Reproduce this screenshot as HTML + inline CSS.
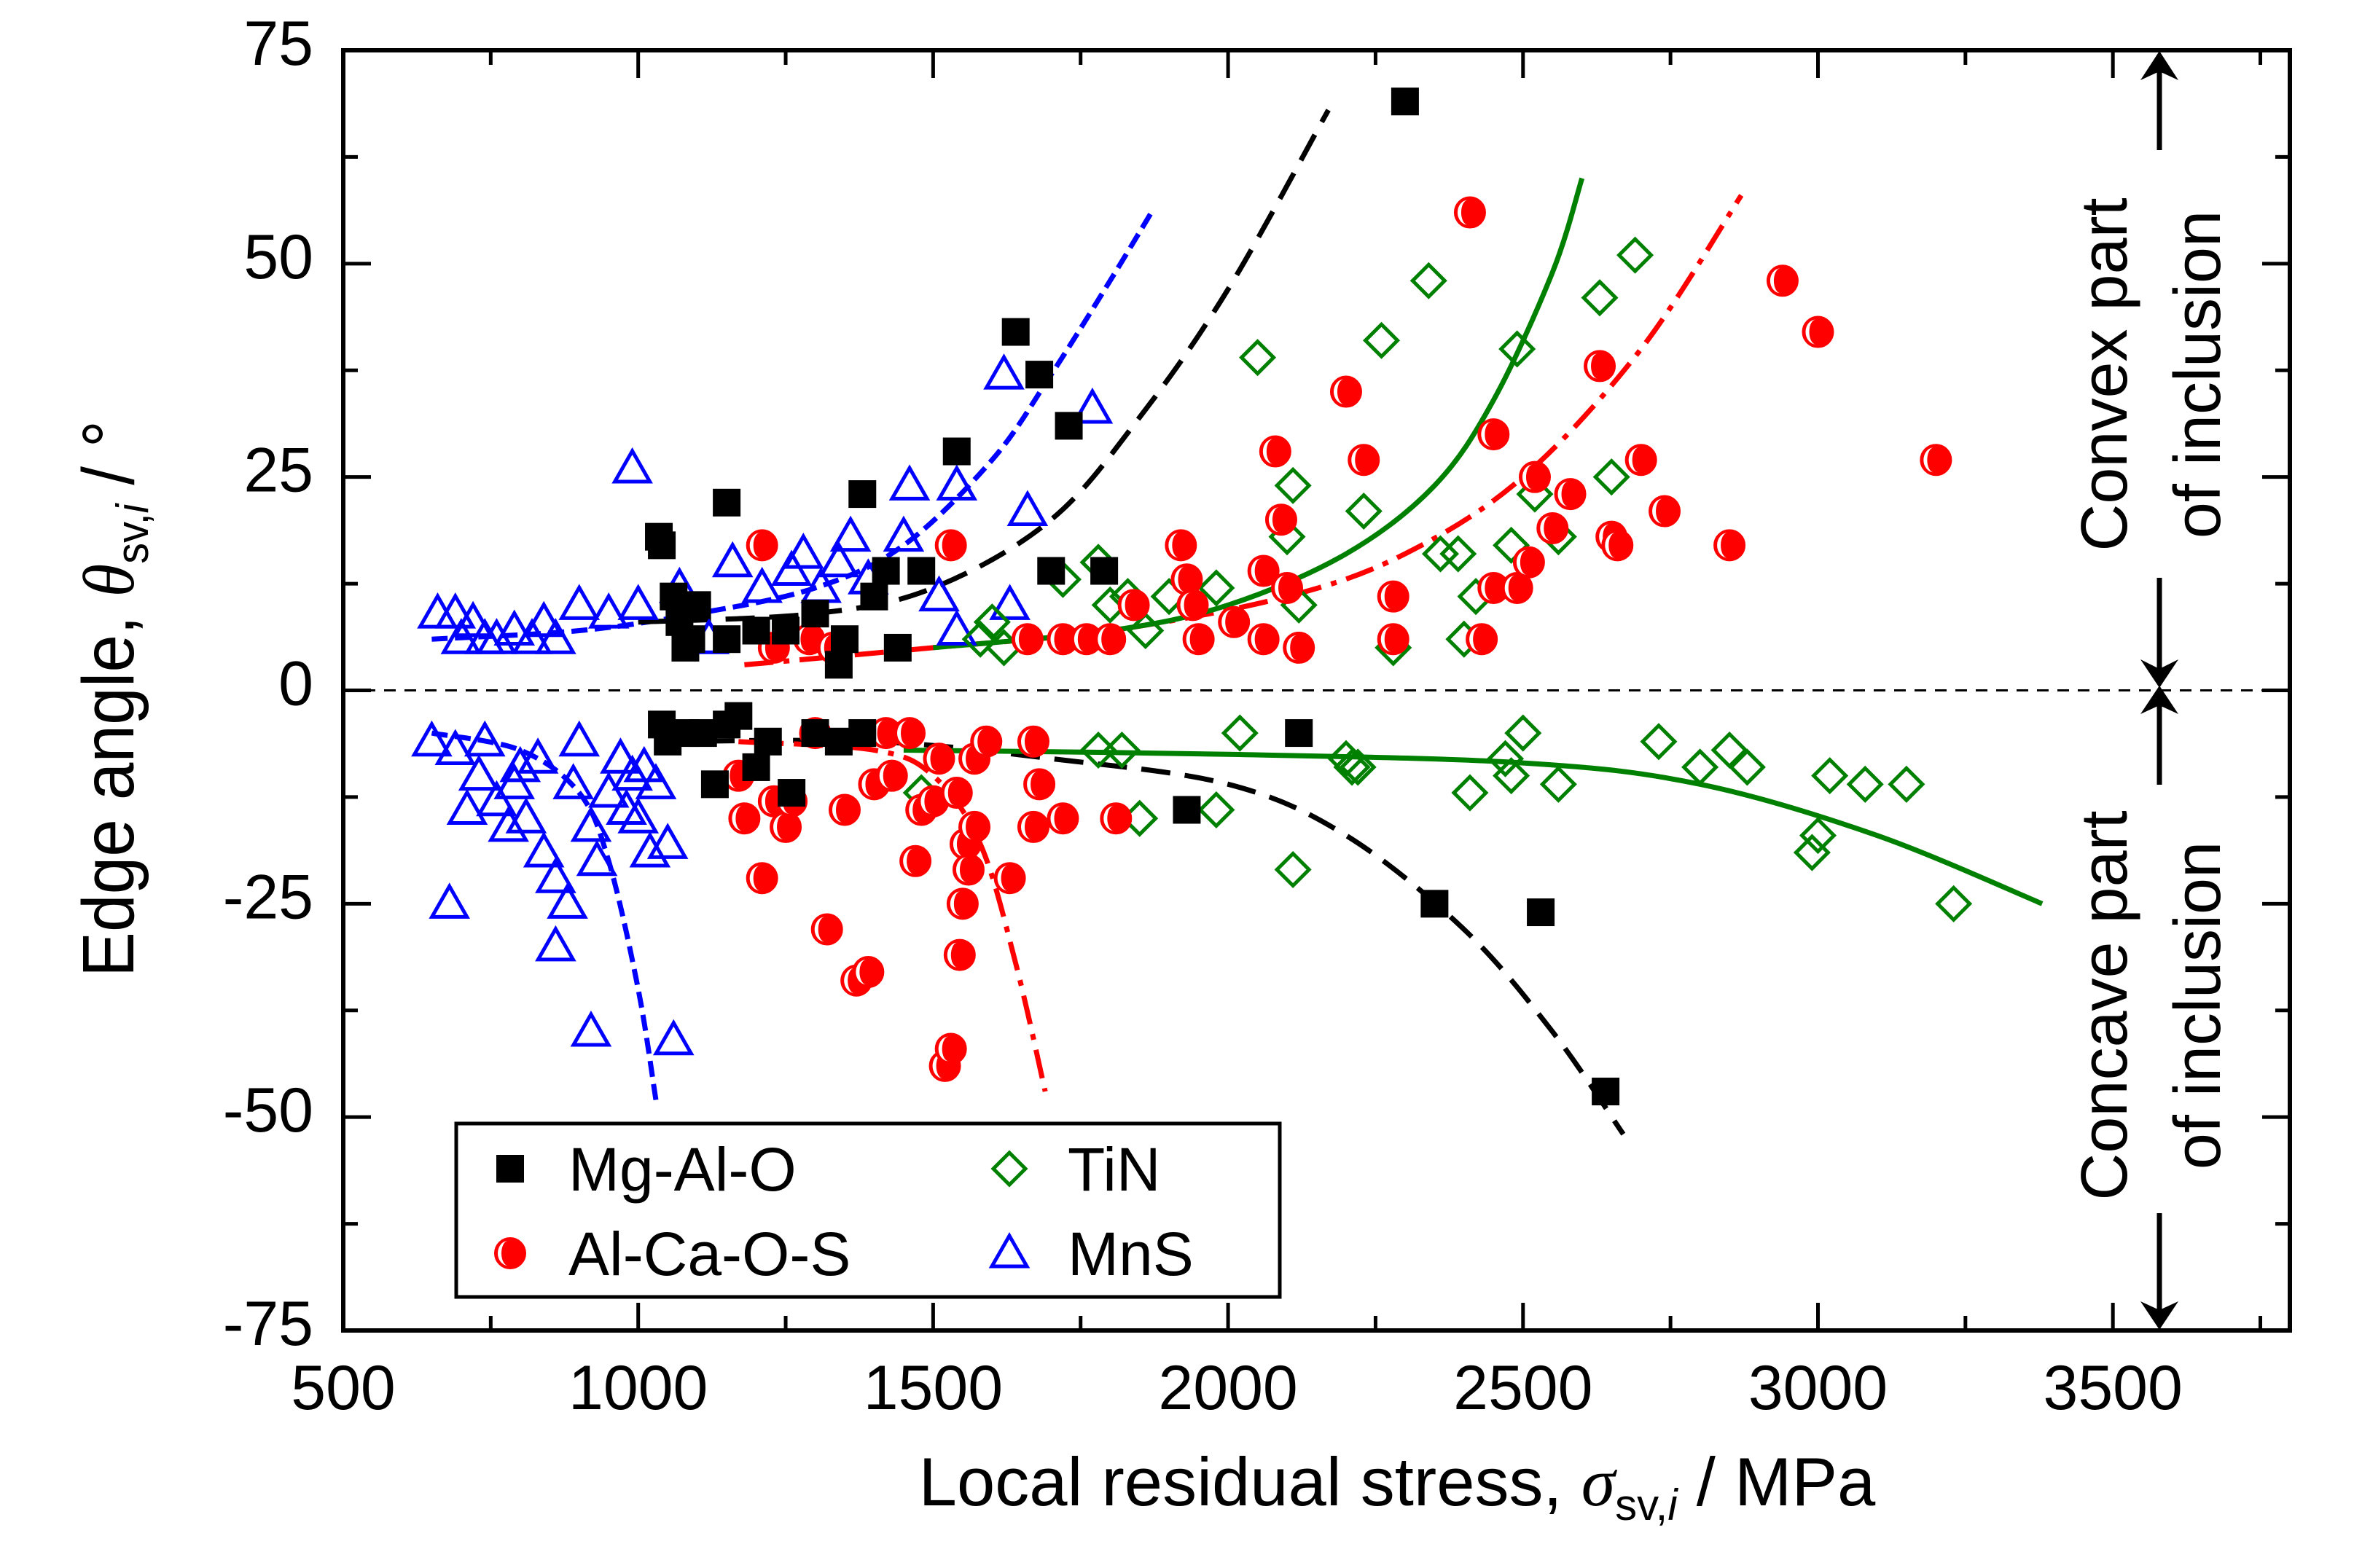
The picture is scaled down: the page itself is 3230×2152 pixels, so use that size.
<!DOCTYPE html>
<html><head><meta charset="utf-8"><style>
html,body{margin:0;padding:0;background:#fff;}
svg{display:block;font-family:"Liberation Sans",Arial,sans-serif;}
</style></head><body>
<svg id="chart" width="3230" height="2152" viewBox="0 0 3230 2152" xmlns="http://www.w3.org/2000/svg">
<rect x="0" y="0" width="3230" height="2152" fill="#fff"/>
<g id="fits"></g>
<g id="marks"></g>
<g id="axes"></g>
<text transform="translate(183,959) rotate(-90)" text-anchor="middle" font-size="100" textLength="764" lengthAdjust="spacingAndGlyphs">Edge angle, <tspan font-family="Liberation Serif" font-style="italic">θ</tspan><tspan font-size="62" dy="20">sv,<tspan font-style="italic">i</tspan></tspan><tspan dy="-20"> / °</tspan></text>
<text x="1917" y="2066" text-anchor="middle" font-size="94">Local residual stress, <tspan font-family="Liberation Serif" font-style="italic">σ</tspan><tspan font-size="60" dy="20">sv,<tspan font-style="italic">i</tspan></tspan><tspan dy="-20"> / MPa</tspan></text>
<g>
<text transform="translate(2918,514) rotate(-90)" text-anchor="middle" font-size="90">Convex part</text>
<text transform="translate(3046,514) rotate(-90)" text-anchor="middle" font-size="90">of inclusion</text>
</g>
<g>
<text transform="translate(2918,1380) rotate(-90)" text-anchor="middle" font-size="90">Concave part</text>
<text transform="translate(3046,1380) rotate(-90)" text-anchor="middle" font-size="90">of inclusion</text>
</g>
<g stroke="#000" stroke-width="7" fill="#000">
<line x1="2963" y1="80" x2="2963" y2="206"/><polygon points="2937,110 2963,70 2989,110 2963,98" stroke="none"/>
<line x1="2963" y1="793" x2="2963" y2="925"/><polygon points="2937,905 2963,944 2989,905 2963,918" stroke="none"/>
<line x1="2963" y1="960" x2="2963" y2="1077"/><polygon points="2937,980 2963,941 2989,980 2963,968" stroke="none"/>
<line x1="2963" y1="1665" x2="2963" y2="1810"/><polygon points="2937,1786 2963,1825 2989,1786 2963,1798" stroke="none"/>
</g>
<g id="legend">
<rect x="626" y="1542" width="1130" height="238" fill="#fff" stroke="#000" stroke-width="5"/>
</g>
</svg>
<script>
const mgX=[1035,1040,1060,1070,1080,1090,1100,1150,1150,1200,1250,1300,1340,1350,1380,1400,1420,1440,1480,1540,1640,1680,1700,1730,1790,2300,1040,1050,1080,1110,1130,1150,1170,1200,1220,1260,1300,1340,1380,1930,2120,2350,2530,2640];
const mgY=[18,17,11,8,5,6,10,22,6,7,7,9,3,6,23,11,14,5,14,28,42,37,14,31,14,69,-4,-6,-5,-5,-11,-4,-3,-9,-6,-12,-5,-6,-5,-14,-5,-25,-26,-47];
const acX=[1210,1230,1290,1330,1530,1660,1720,1760,1800,1840,1920,1930,1940,1950,2010,2060,2060,2080,2090,2100,2120,2200,2230,2280,2280,2410,2430,2450,2450,2490,2510,2520,2550,2580,2630,2650,2660,2700,2740,2850,2940,3000,3200,1170,1180,1210,1230,1250,1260,1300,1320,1350,1370,1390,1400,1420,1430,1460,1470,1480,1500,1510,1520,1530,1540,1545,1550,1555,1560,1570,1570,1590,1630,1670,1670,1680,1720,1810];
const acY=[17,5,6,5,17,6,6,6,6,10,17,13,10,6,8,6,14,28,20,12,5,35,27,11,6,56,6,30,12,12,15,25,19,23,38,18,17,27,21,17,48,42,27,-10,-15,-22,-13,-16,-13,-5,-28,-14,-34,-33,-11,-5,-10,-5,-20,-14,-13,-8,-44,-42,-12,-31,-25,-18,-21,-16,-8,-6,-22,-6,-16,-11,-15,-15];
const tinX=[1580,1600,1620,1720,1780,1800,1830,1860,1900,1980,2050,2100,2110,2120,2230,2260,2280,2340,2360,2390,2400,2420,2480,2490,2520,2560,2630,2650,2690,1480,1780,1820,1850,1980,2020,2110,2200,2210,2220,2410,2470,2480,2500,2560,2730,2800,2850,2880,2990,3000,3020,3080,3150,3230];
const tinY=[6,8,5,13,15,10,11,7,11,12,39,18,24,10,21,41,5,48,16,16,6,11,17,40,23,18,46,25,51,-12,-7,-7,-15,-14,-5,-21,-8,-9,-9,-12,-8,-10,-5,-11,-6,-9,-7,-9,-19,-17,-10,-11,-11,-25];
const mnsX=[660,690,700,720,740,760,790,820,840,860,900,950,990,1000,1070,1120,1160,1210,1260,1280,1310,1340,1360,1390,1450,1460,1510,1540,1540,1620,1630,1660,1770,650,680,690,710,730,740,760,780,790,800,810,830,840,860,860,880,890,900,920,930,950,970,980,990,1010,1020,1030,1050,920,1060,1000];
const mnsY=[9,9,6,8,6,6,7,6,8,6,10,9,26,10,12,6,15,12,14,16,12,15,18,13,18,24,11,24,7,37,10,21,33,-6,-25,-7,-14,-10,-6,-13,-16,-11,-9,-15,-8,-19,-22,-30,-25,-11,-6,-16,-20,-12,-8,-14,-10,-9,-19,-11,-18,-40,-41,-15];
const fitBlueUpX=[650,900,1100,1300,1450,1600,1700,1800,1870], fitBlueUpY=[6,7,9,12,17,27,37,48,56];
const fitBlueLoX=[650,800,900,950,1000,1030], fitBlueLoY=[-5,-7,-12,-20,-35,-48];
const fitBlackUpX=[1000,1300,1500,1700,1850,2000,2170], fitBlackUpY=[8,9,12,20,32,47,68];
const fitBlackLoX=[1040,1400,1700,2000,2200,2400,2550,2670], fitBlackLoY=[-6,-6,-8,-11,-17,-28,-40,-52];
const fitRedUpX=[1180,1500,1800,2100,2300,2500,2700,2870], fitRedUpY=[3,5,7,11,16,25,40,58];
const fitRedLoX=[1170,1400,1500,1580,1640,1690], fitRedLoY=[-6,-7,-10,-18,-32,-47];
const fitGreenUpX=[1500,1800,2000,2200,2350,2450,2550,2600], fitGreenUpY=[5,7,10,16,24,34,49,60];
const fitGreenLoX=[1450,2000,2500,2800,3100,3380], fitGreenLoY=[-7,-7.5,-8.5,-11,-17,-25];
const xTicks=[500,1000,1500,2000,2500,3000,3500];
const yTicks=[-75,-50,-25,0,25,50,75];

const NS='http://www.w3.org/2000/svg';
const L=471,R=3142,T=69,B=1826,X0=500,X1=3800,Y0=-75,Y1=75;
function sx(v){return L+(v-X0)/(X1-X0)*(R-L);}
function sy(v){return B-(v-Y0)/(Y1-Y0)*(B-T);}
function mk(tag,attrs,parent){const e=document.createElementNS(NS,tag);for(const k in attrs)e.setAttribute(k,attrs[k]);parent.appendChild(e);return e;}
const marks=document.getElementById('marks'),fits=document.getElementById('fits'),axes=document.getElementById('axes'),legend=document.getElementById('legend');

function square(x,y,p){return mk('rect',{x:x-19,y:y-19,width:38,height:38,fill:'#000'},p);}
function circ(x,y,p){const g=mk('g',{},p);mk('circle',{cx:x,cy:y,r:21,fill:'#f00',stroke:'#f00','stroke-width':2},g);mk('path',{d:`M${x-3},${y-17} A9,17 0 0 0 ${x-3},${y+17} A14,17 0 0 1 ${x-3},${y-17}Z`,fill:'#fff'},g);return g;}
function diamond(x,y,p){return mk('polygon',{points:`${x},${y-22} ${x+22},${y} ${x},${y+22} ${x-22},${y}`,fill:'none',stroke:'#008000','stroke-width':5},p);}
function tri(x,y,p){return mk('polygon',{points:`${x},${y-24} ${x+24},${y+18} ${x-24},${y+18}`,fill:'none',stroke:'#0000ff','stroke-width':5},p);}

function fit(xs,ys,color,dash,name){
 const P=xs.map((v,i)=>[sx(v),sy(ys[i])]);
 let d='M'+P[0][0].toFixed(1)+','+P[0][1].toFixed(1);
 for(let i=0;i<P.length-1;i++){
  const p0=P[Math.max(0,i-1)],p1=P[i],p2=P[i+1],p3=P[Math.min(P.length-1,i+2)];
  const c1=[p1[0]+(p2[0]-p0[0])/6,p1[1]+(p2[1]-p0[1])/6],c2=[p2[0]-(p3[0]-p1[0])/6,p2[1]-(p3[1]-p1[1])/6];
  d+=`C${c1[0].toFixed(1)},${c1[1].toFixed(1)} ${c2[0].toFixed(1)},${c2[1].toFixed(1)} ${p2[0].toFixed(1)},${p2[1].toFixed(1)}`;
 }
 const e=mk('path',{d:d,fill:'none',stroke:color,'stroke-width':7,'stroke-dasharray':dash},fits);
 
 
}
const zl=mk('line',{x1:L,y1:sy(0),x2:R,y2:sy(0),stroke:'#000','stroke-width':3,'stroke-dasharray':'16,12'},fits);


fit(fitBlueUpX,fitBlueUpY,'#0000ff','22,10','fit-mns-convex');
fit(fitBlueLoX,fitBlueLoY,'#0000ff','22,10','fit-mns-concave');
fit(fitBlackUpX,fitBlackUpY,'#000','40,20','fit-mgalo-convex');
fit(fitBlackLoX,fitBlackLoY,'#000','40,20','fit-mgalo-concave');
fit(fitRedUpX,fitRedUpY,'#f00','40,14,8,14','fit-alcaos-convex');
fit(fitRedLoX,fitRedLoY,'#f00','40,14,8,14','fit-alcaos-concave');
fit(fitGreenUpX,fitGreenUpY,'#008000','none','fit-tin-convex');
fit(fitGreenLoX,fitGreenLoY,'#008000','none','fit-tin-concave');

mnsX.forEach((v,i)=>{const e=tri(sx(v),sy(mnsY[i]),marks);
 
 });
tinX.forEach((v,i)=>{const e=diamond(sx(v),sy(tinY[i]),marks);
 
 });
acX.forEach((v,i)=>{const e=circ(sx(v),sy(acY[i]),marks);
 
 });
mgX.forEach((v,i)=>{const e=square(sx(v),sy(mgY[i]),marks);
 
 });

mk('rect',{x:L,y:T,width:R-L,height:B-T,fill:'none',stroke:'#000','stroke-width':6},axes);
for(let v=X0;v<=X1;v+=250){const maj=(v%500===0);const x=sx(v);
 mk('line',{x1:x,y1:B,x2:x,y2:B-(maj?38:20),stroke:'#000','stroke-width':5},axes);
 mk('line',{x1:x,y1:T,x2:x,y2:T+(maj?38:20),stroke:'#000','stroke-width':5},axes);}
xTicks.forEach(v=>{const t=mk('text',{x:sx(v),y:1934,'text-anchor':'middle','font-size':86},axes);t.textContent=v;
 
 });
for(let v=Y0;v<=Y1;v+=12.5){const maj=(v%25===0);const y=sy(v);
 mk('line',{x1:L,y1:y,x2:L+(maj?38:20),y2:y,stroke:'#000','stroke-width':5},axes);
 mk('line',{x1:R,y1:y,x2:R-(maj?38:20),y2:y,stroke:'#000','stroke-width':5},axes);}
yTicks.forEach(v=>{const t=mk('text',{x:430,y:sy(v)+20,'text-anchor':'end','font-size':86},axes);t.textContent=v;
 
 });

const items=[['Mg-Al-O',square,700,1604],['Al-Ca-O-S',circ,700,1720],['TiN',diamond,1385,1604],['MnS',tri,1385,1720]];
items.forEach(it=>{const g=mk('g',{},legend);
 
 
 it[1](it[2],it[3],g);const t=mk('text',{x:it[2]+80,y:it[3]+30,'font-size':84},g);t.textContent=it[0];});
</script>
</body></html>
